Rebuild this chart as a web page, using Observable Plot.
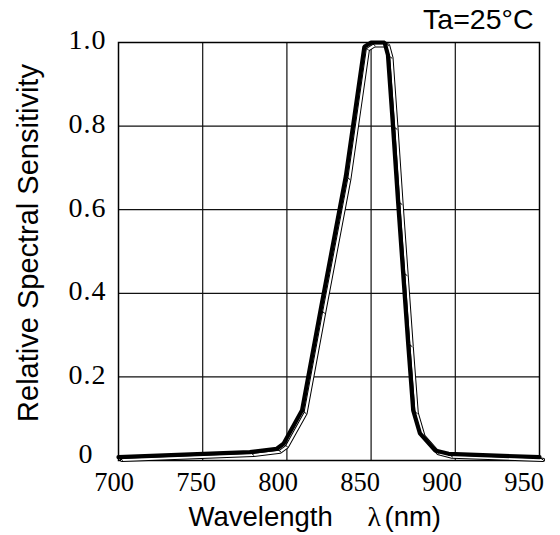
<!DOCTYPE html>
<html><head><meta charset="utf-8">
<script src="https://cdn.jsdelivr.net/npm/d3@7"></script>
<script src="https://cdn.jsdelivr.net/npm/@observablehq/plot@0.6"></script>
<style>html,body{margin:0;padding:0;background:#fff}</style>
</head><body><div id="chart"></div>
<script>
const wavelength = [700, 778, 794, 798, 809, 820, 835, 846, 850, 858, 860, 863, 866, 869, 872, 875, 879, 888, 896, 950];
const sensitivity = [0.008, 0.02, 0.028, 0.04, 0.12, 0.36, 0.68, 0.99, 1.0, 1.0, 0.97, 0.8, 0.62, 0.45, 0.28, 0.12, 0.065, 0.024, 0.016, 0.008];
const xTicks = [700, 750, 800, 850, 900, 950];
const yTicks = [0.2, 0.4, 0.6, 0.8, 1.0];
const yZero = [0];
const xGrid = [750, 800, 850, 900];
const yGrid = [0.2, 0.4, 0.6, 0.8];
const title = "Ta=25°C";
const yLabel = "Relative Spectral Sensitivity";

const data = wavelength.map((w, i) => ({w, s: sensitivity[i]}));
const serif = "'Liberation Serif','Times New Roman',serif";
const sans = "'Liberation Sans',Arial,sans-serif";
const labelShift = t => -4.5 - 0.044 * (t - 700);
const OX = 3.5, OY = 2.8;
// small connector drawn at each vertex, joining the curve to its offset outline
const connector = {draw(context) { context.moveTo(0, 0); context.lineTo(OX + 0.8, OY + 0.6); }};

const plot = Plot.plot({
  width: 560, height: 535,
  marginTop: 42, marginBottom: 75, marginLeft: 118, marginRight: 21,
  x: {domain: [700, 950], axis: null},
  y: {domain: [0, 1], axis: null},
  style: {background: "#fff", color: "#000", fontFamily: sans},
  marks: [
    Plot.gridX(xGrid, {stroke: "#111", strokeOpacity: 1, strokeWidth: 1.2}),
    Plot.gridY(yGrid, {stroke: "#111", strokeOpacity: 1, strokeWidth: 1.2}),
    Plot.frame({stroke: "#000", strokeWidth: 1.5}),
    ...xTicks.map(t => Plot.text([t], {x: d => d, text: d => String(d), frameAnchor: "bottom", textAnchor: "middle", lineAnchor: "bottom", dx: labelShift(t), dy: 30, fontSize: 26.5, fontFamily: serif, fill: "#000"})),
    Plot.text(yTicks, {y: d => d, text: d => d.toFixed(1), frameAnchor: "left", textAnchor: "end", lineAnchor: "middle", dx: -12, dy: -2, fontSize: 28, fontFamily: serif, fill: "#000"}),
    Plot.text(yZero, {y: d => d, text: d => "0", frameAnchor: "left", textAnchor: "end", lineAnchor: "middle", dx: -26, dy: -6, fontSize: 28, fontFamily: serif, fill: "#000"}),
    Plot.line(data, {x: "w", y: "s", stroke: "#000", strokeWidth: 4.2, dx: OX, dy: OY, strokeLinejoin: "miter"}),
    Plot.line(data, {x: "w", y: "s", stroke: "#fff", strokeWidth: 2.2, dx: OX, dy: OY, strokeLinejoin: "miter"}),
    Plot.dot(data, {x: "w", y: "s", symbol: connector, r: 3, fill: "none", stroke: "#000", strokeWidth: 1}),
    Plot.line(data, {x: "w", y: "s", stroke: "#000", strokeWidth: 4.2, strokeLinejoin: "miter"}),
    Plot.text([title], {text: d => d, frameAnchor: "top-right", textAnchor: "end", lineAnchor: "bottom", dx: -6, dy: -13.5, fontSize: 28.5, fontFamily: sans}),
    Plot.text([yLabel], {text: d => d, frameAnchor: "left", rotate: -90, textAnchor: "middle", lineAnchor: "middle", dx: -90, dy: -8.5, fontSize: 29, fontFamily: sans}),
    Plot.text(["Wavelength"], {text: d => d, frameAnchor: "bottom-left", textAnchor: "start", lineAnchor: "bottom", dx: 70, dy: 65, fontSize: 27.5, fontFamily: sans}),
    Plot.text(["λ"], {text: d => d, frameAnchor: "bottom-left", textAnchor: "start", lineAnchor: "bottom", dx: 249, dy: 65, fontSize: 27.5, fontFamily: serif}),
    Plot.text(["(nm)"], {text: d => d, frameAnchor: "bottom-left", textAnchor: "start", lineAnchor: "bottom", dx: 266, dy: 65, fontSize: 27.5, fontFamily: sans})
  ]
});
d3.select(plot).selectAll("text")
  .filter(function() { return /^[01]\.\d$/.test(this.textContent); })
  .attr("letter-spacing", "1px");
document.getElementById("chart").append(plot);
</script>
</body></html>
